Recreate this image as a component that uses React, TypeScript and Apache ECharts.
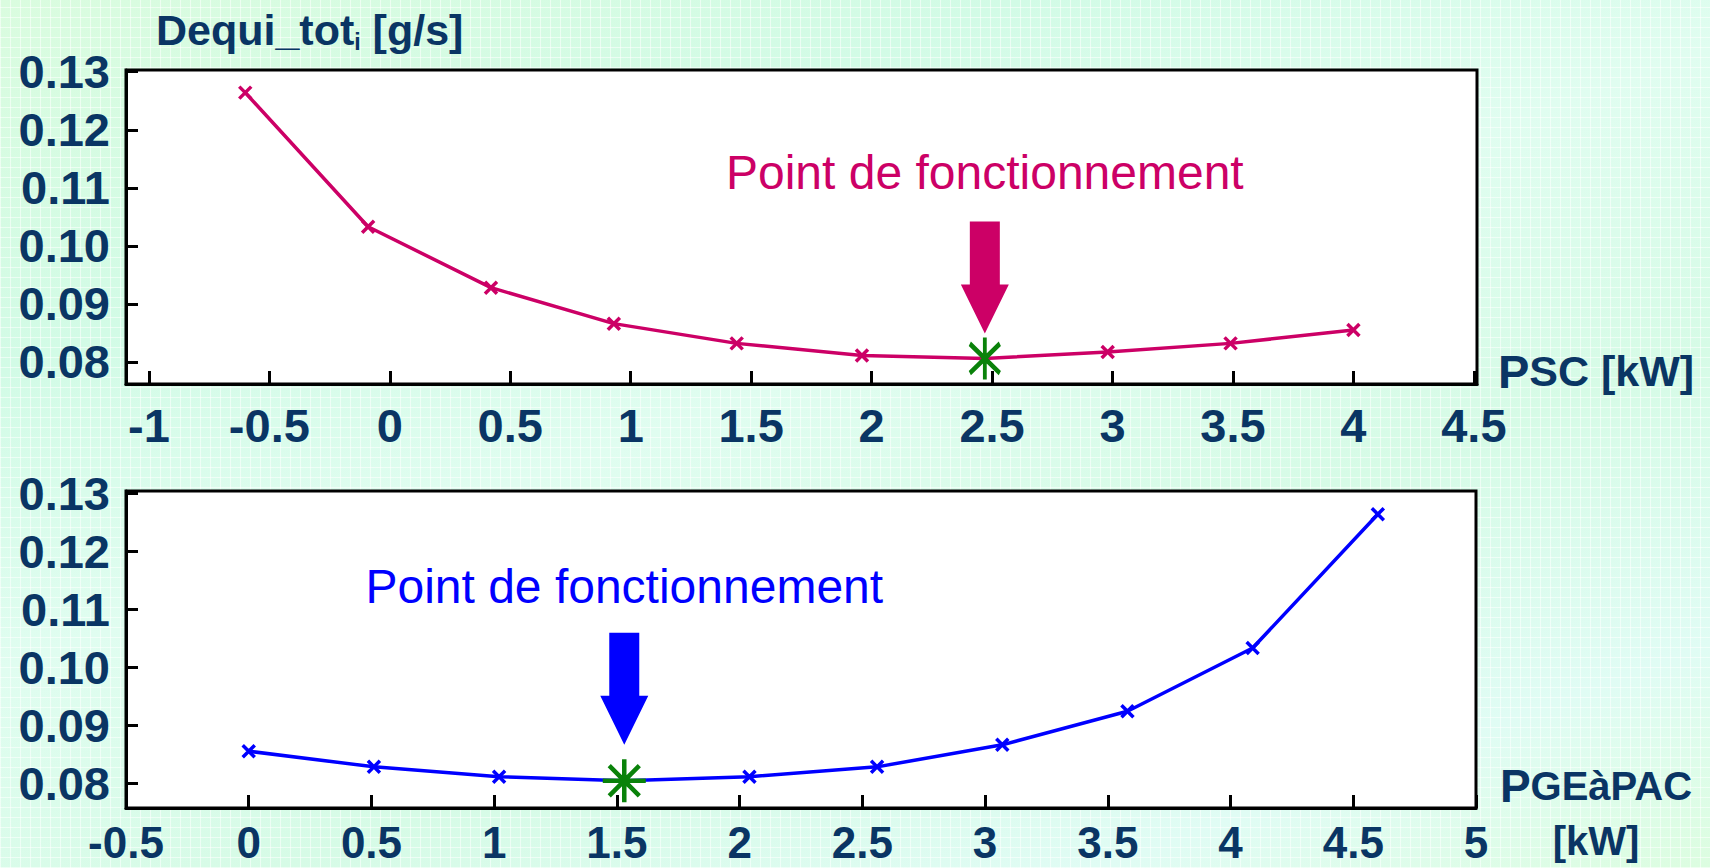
import React, { useEffect, useRef } from "react";
import * as echarts from "echarts";

// ---- data ----
const pscValues = [-0.6, -0.09, 0.42, 0.93, 1.44, 1.96, 2.47, 2.98, 3.49, 4.0];
const dequiTop = [0.1264, 0.1033, 0.0928, 0.0866, 0.0832, 0.0811, 0.0806, 0.0817, 0.0832, 0.0855];
const pgeValues = [0, 0.51, 1.02, 1.53, 2.04, 2.56, 3.07, 3.58, 4.09, 4.6];
const dequiBottom = [0.0855, 0.0828, 0.0811, 0.0804, 0.0811, 0.0828, 0.0866, 0.0924, 0.1033, 0.1264];
const optimumTop = [2.47, 0.0806];
const optimumBottom = [1.53, 0.0804];
const yTicks = [0.08, 0.09, 0.1, 0.11, 0.12, 0.13];
const xTicksTop = [-1, -0.5, 0, 0.5, 1, 1.5, 2, 2.5, 3, 3.5, 4, 4.5];
const xTicksBottom = [-0.5, 0, 0.5, 1, 1.5, 2, 2.5, 3, 3.5, 4, 4.5, 5];
const annotationText = "Point de fonctionnement";
const titleMain = "Dequi_tot";
const titleSub = "i";
const titleUnit = " [g/s]";

const NAVY = "#0a3564";
const MAGENTA = "#cc0066";
const BLUE = "#0000ff";
const GREEN = "#0a820a";
const FONT = "'Liberation Sans', Arial, Helvetica, sans-serif";

const xMark = "path://M0,0 L10,10 M0,10 L10,0";
const star8 = "path://M10,0 L10,20 M0,10 L20,10 M3,3 L17,17 M3,17 L17,3";
const star6 = "path://M10,0 L10,20 M3,3 L17,17 M3,17 L17,3";

const tickLabel = {
  color: NAVY,
  fontFamily: FONT,
  fontWeight: "bold" as const,
  fontSize: 47,
  lineHeight: 40,
};

function yAxisFor(gridIndex: number, min: number, max: number) {
  return {
    type: "value",
    gridIndex,
    min,
    max,
    axisLine: { show: true, onZero: false, lineStyle: { color: "#000", width: 3 } },
    axisTick: { show: true, inside: true, length: 12, customValues: yTicks, lineStyle: { color: "#000", width: 3 } },
    axisLabel: { ...tickLabel, margin: 16, customValues: yTicks, formatter: (v: number) => v.toFixed(2) },
    splitLine: { show: false },
  };
}

export default function App() {
  const ref = useRef<HTMLDivElement>(null);

  useEffect(() => {
    if (!ref.current) return;
    const chart = echarts.init(ref.current, undefined, { renderer: "svg" });
    chart.setOption({
      animation: false,
      backgroundColor: "transparent",
      grid: [
        { left: 126, top: 70, width: 1351, height: 314, show: true, backgroundColor: "#fff", borderColor: "#000", borderWidth: 3 },
        { left: 126, top: 491, width: 1350, height: 317, show: true, backgroundColor: "#fff", borderColor: "#000", borderWidth: 3 },
      ],
      xAxis: [
        {
          type: "value",
          gridIndex: 0,
          min: -1.095,
          max: 4.513,
          axisLine: { show: true, onZero: false, lineStyle: { color: "#000", width: 3 } },
          axisTick: { show: true, inside: true, length: 13, customValues: xTicksTop, lineStyle: { color: "#000", width: 3 } },
          axisLabel: { ...tickLabel, margin: 21, customValues: xTicksTop },
          splitLine: { show: false },
          name: "{p|P}{s|SC [kW]}",
          nameLocation: "end",
          nameGap: 21,
          nameTextStyle: {
            align: "left",
            verticalAlign: "middle",
            padding: [0, 0, 26, 0],
            rich: {
              p: { fontFamily: FONT, fontWeight: "bold", fontSize: 47, color: NAVY },
              s: { fontFamily: FONT, fontWeight: "bold", fontSize: 43, color: NAVY },
            },
          },
        },
        {
          type: "value",
          gridIndex: 1,
          min: -0.5,
          max: 5,
          axisLine: { show: true, onZero: false, lineStyle: { color: "#000", width: 3 } },
          axisTick: { show: true, inside: true, length: 13, customValues: xTicksBottom, lineStyle: { color: "#000", width: 3 } },
          axisLabel: { ...tickLabel, fontSize: 44, lineHeight: 38, margin: 15, customValues: xTicksBottom },
          splitLine: { show: false },
          name: "{p|P}{s|GEàPAC}\n{s|[kW]}",
          nameLocation: "end",
          nameGap: 120,
          nameTextStyle: {
            align: "center",
            verticalAlign: "middle",
            padding: [11, 0, 0, 0],
            rich: {
              p: { fontFamily: FONT, fontWeight: "bold", fontSize: 46, color: NAVY, lineHeight: 55 },
              s: { fontFamily: FONT, fontWeight: "bold", fontSize: 40, color: NAVY, lineHeight: 55 },
            },
          },
        },
      ],
      yAxis: [yAxisFor(0, 0.0762, 0.1303), yAxisFor(1, 0.0757, 0.1304)],
      series: [
        {
          type: "line",
          xAxisIndex: 0,
          yAxisIndex: 0,
          data: pscValues.map((x, i) => [x, dequiTop[i]]),
          lineStyle: { color: MAGENTA, width: 3.5 },
          symbol: xMark,
          symbolSize: 12,
          itemStyle: { color: MAGENTA, borderColor: MAGENTA, borderWidth: 3.5 },
          z: 3,
        },
        {
          type: "scatter",
          xAxisIndex: 0,
          yAxisIndex: 0,
          data: [optimumTop],
          symbol: star6,
          symbolSize: [30, 42],
          itemStyle: { color: GREEN, borderColor: GREEN, borderWidth: 4.5, opacity: 1 },
          z: 4,
        },
        {
          type: "line",
          xAxisIndex: 1,
          yAxisIndex: 1,
          data: pgeValues.map((x, i) => [x, dequiBottom[i]]),
          lineStyle: { color: BLUE, width: 3.5 },
          symbol: xMark,
          symbolSize: 12,
          itemStyle: { color: BLUE, borderColor: BLUE, borderWidth: 3.5 },
          z: 3,
        },
        {
          type: "scatter",
          xAxisIndex: 1,
          yAxisIndex: 1,
          data: [optimumBottom],
          symbol: star8,
          symbolSize: 43,
          itemStyle: { color: GREEN, borderColor: GREEN, borderWidth: 4.5, opacity: 1 },
          z: 4,
        },
      ],
    });

    const arrowAt = (id: string, p: number[], gapToPoint: number, textGap: number, color: string) => {
      const tipX = p[0];
      const tipY = p[1] - gapToPoint;
      const top = tipY - 112;
      const headY = tipY - 49;
      return [
        {
          id: id + "-arrow",
          type: "polygon",
          shape: {
            points: [
              [tipX - 15, top],
              [tipX + 15, top],
              [tipX + 15, headY],
              [tipX + 24, headY],
              [tipX, tipY],
              [tipX - 24, headY],
              [tipX - 15, headY],
            ],
          },
          style: { fill: color },
          z: 10,
        },
        {
          id: id + "-text",
          type: "text",
          x: tipX,
          y: top - textGap,
          style: {
            text: annotationText,
            fill: color,
            font: `48px ${FONT}`,
            align: "center",
            verticalAlign: "middle",
          },
          z: 10,
        },
      ];
    };

    const pTop = chart.convertToPixel({ xAxisIndex: 0, yAxisIndex: 0 }, optimumTop) as number[];
    const pBottom = chart.convertToPixel({ xAxisIndex: 1, yAxisIndex: 1 }, optimumBottom) as number[];

    chart.setOption({
      graphic: [
        {
          id: "title",
          type: "text",
          left: 156,
          top: 6,
          style: {
            text: `{b|${titleMain}}{sub|${titleSub}}{b|${titleUnit}}`,
            rich: {
              b: { fontFamily: FONT, fontWeight: "bold", fontSize: 43, fill: NAVY, lineHeight: 48 },
              sub: { fontFamily: FONT, fontWeight: "bold", fontSize: 23, fill: NAVY, lineHeight: 48, padding: [24, 0, 0, 0] },
            },
          },
          z: 10,
        },
        ...arrowAt("top", pTop, 25, 49, MAGENTA),
        ...arrowAt("bottom", pBottom, 36, 46, BLUE),
      ],
    });

    return () => chart.dispose();
  }, []);

  const bg: React.CSSProperties = {
    position: "fixed",
    left: 0,
    top: 0,
    width: 1710,
    height: 868,
    backgroundColor: "#ddfce3",
    backgroundImage: [
      "repeating-linear-gradient(0deg, rgba(255,255,255,0.55) 0px, rgba(255,255,255,0.55) 1px, transparent 1px, transparent 10px)",
      "repeating-linear-gradient(90deg, rgba(255,255,255,0.55) 0px, rgba(255,255,255,0.55) 1px, transparent 1px, transparent 10px)",
      "linear-gradient(160deg, #dafcdf 0%, #d2fbe6 25%, #e0fdf0 45%, #d6fbe6 65%, #e0fcf4 85%, #dcfde0 100%)",
    ].join(","),
  };

  return (
    <div style={bg}>
      <div ref={ref} style={{ width: 1710, height: 868 }} />
    </div>
  );
}
